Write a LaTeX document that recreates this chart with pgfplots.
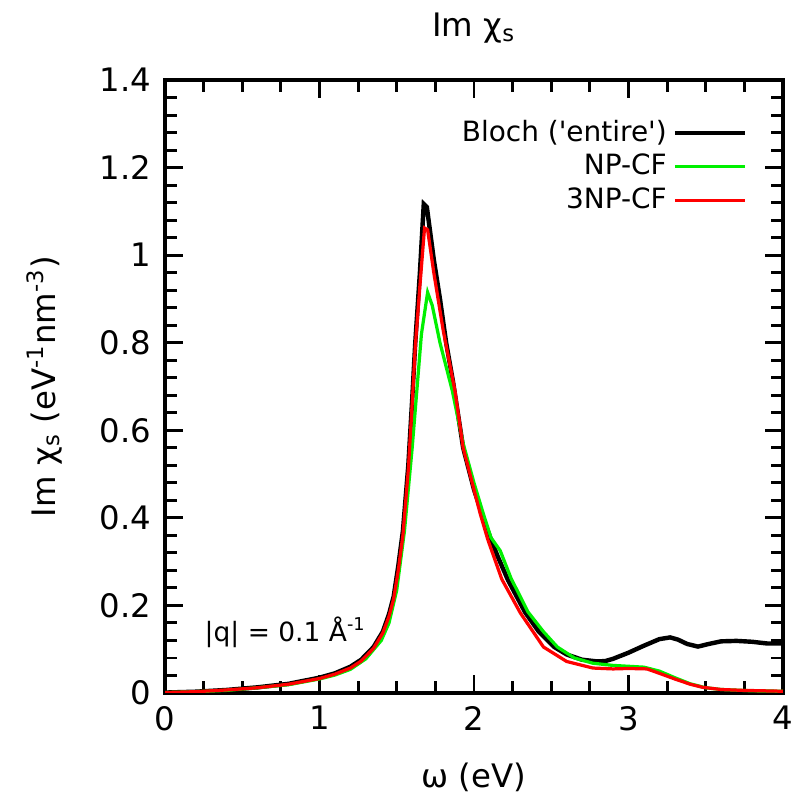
\documentclass[border=0pt]{standalone}
\usepackage{fontspec}
\setmainfont{DejaVu Sans}
\usepackage{pgfplots}
\pgfplotsset{compat=1.18}
\definecolor{lgreen}{RGB}{0,240,0}
\definecolor{lred}{RGB}{255,0,0}
\begin{document}
\begin{tikzpicture}
\begin{axis}[
  name=ax,
  scale only axis,
  width=210.1pt, height=208.4pt,
  xmin=0, xmax=4, ymin=0, ymax=1.4,
  xtick={0,1,2,3,4}, ytick={0,0.2,0.4,0.6,0.8,1,1.2,1.4},
  minor x tick num=3, minor y tick num=4,
  tick align=inside, tick pos=both,
  major tick length=6pt, minor tick length=4pt,
  every tick/.style={line width=1pt, black},
  axis line style={line width=1.3pt},
  /pgf/number format/assume math mode=true,
  /pgf/number format/.cd, fixed, use period, 1000 sep={},
  /pgfplots/.cd,
  ticklabel style={font=\fontsize{11}{13}\selectfont},
  yticklabel style={xshift=-1.2pt},
  xticklabel style={yshift=-1pt},
  label style={font=\fontsize{11}{13}\selectfont},
  title style={font=\fontsize{11}{13}\selectfont, yshift=3pt},
  title={Im χ\textsubscript{s}},
  xlabel={ω (eV)},
  ylabel={Im χ\textsubscript{s} (eV\textsuperscript{-1}nm\textsuperscript{-3})},
  xlabel style={yshift=-4pt},
  ylabel style={yshift=6pt},
  legend plot pos=right,
  legend cell align=right,
  legend style={draw=none, fill=none, font=\fontsize{9.5}{11}\selectfont,
    at={(1,1)}, anchor=north east, xshift=-9pt, yshift=-9.5pt,
    row sep=-1.2pt},
  legend image code/.code={\draw[#1] (0pt,0pt) -- (23.8pt,0pt);},
]
\addplot[black, line width=1.5pt] coordinates {
(0,0.001) (0.2,0.003) (0.4,0.007) (0.6,0.013) (0.8,0.021) (1.0,0.035) (1.1,0.045)
(1.2,0.060) (1.27,0.076) (1.35,0.105) (1.41,0.14) (1.45,0.18) (1.48,0.22) (1.51,0.29)
(1.54,0.37) (1.575,0.52) (1.60,0.67) (1.62,0.80) (1.65,0.96) (1.675,1.117) (1.695,1.11)
(1.74,0.99) (1.78,0.90) (1.82,0.80) (1.865,0.71) (1.93,0.56) (2.0,0.465) (2.06,0.40)
(2.1,0.36) (2.15,0.315) (2.22,0.258) (2.33,0.185) (2.42,0.14) (2.52,0.105) (2.6,0.088)
(2.7,0.076) (2.8,0.072) (2.85,0.073) (2.9,0.078) (3.0,0.092) (3.1,0.108) (3.2,0.123)
(3.27,0.127) (3.32,0.122) (3.38,0.112) (3.45,0.106) (3.52,0.112) (3.6,0.118) (3.7,0.119)
(3.8,0.117) (3.9,0.113) (4.0,0.113)
};
\addlegendentry{Bloch (\textquotesingle entire\textquotesingle)}
\addplot[lgreen, line width=1.1pt] coordinates {
(0,0.001) (0.2,0.003) (0.4,0.006) (0.6,0.012) (0.8,0.019) (1.0,0.032) (1.1,0.041)
(1.2,0.054) (1.3,0.078) (1.4,0.12) (1.45,0.16) (1.5,0.235) (1.55,0.37) (1.6,0.56)
(1.63,0.69) (1.66,0.82) (1.70,0.915) (1.73,0.885) (1.78,0.80) (1.86,0.69) (1.93,0.57)
(2.0,0.48) (2.06,0.41) (2.11,0.355) (2.17,0.325) (2.24,0.262) (2.35,0.185) (2.45,0.14)
(2.54,0.105) (2.65,0.08) (2.77,0.068) (2.9,0.063) (3.0,0.061) (3.1,0.059) (3.2,0.05)
(3.3,0.035) (3.4,0.021) (3.5,0.012) (3.6,0.008) (3.8,0.005) (4.0,0.004)
};
\addlegendentry{NP-CF}
\addplot[lred, line width=1.1pt] coordinates {
(0,0.001) (0.2,0.003) (0.4,0.007) (0.6,0.012) (0.8,0.02) (1.0,0.033) (1.1,0.043)
(1.2,0.057) (1.27,0.073) (1.35,0.102) (1.41,0.137) (1.45,0.175) (1.48,0.215) (1.51,0.28)
(1.54,0.36) (1.575,0.51) (1.60,0.66) (1.62,0.79) (1.65,0.93) (1.68,1.062) (1.70,1.058)
(1.74,0.96) (1.8,0.83) (1.877,0.69) (1.93,0.56) (2.04,0.41) (2.09,0.35) (2.18,0.26)
(2.30,0.183) (2.45,0.105) (2.6,0.072) (2.77,0.057) (2.9,0.055) (3.0,0.056) (3.12,0.055)
(3.2,0.045) (3.3,0.032) (3.4,0.02) (3.48,0.013) (3.6,0.008) (3.74,0.006) (4.0,0.004)
};
\addlegendentry{3NP-CF}
\node[anchor=west, font=\fontsize{9}{11}\selectfont] at (axis cs:0.19,0.139) {|q| = 0.1 Å\textsuperscript{-1}};
\end{axis}
\pgfresetboundingbox
\path[use as bounding box] (-56.1pt,-36.72pt) rectangle (215.9pt,235.62pt);
\end{tikzpicture}
\end{document}
